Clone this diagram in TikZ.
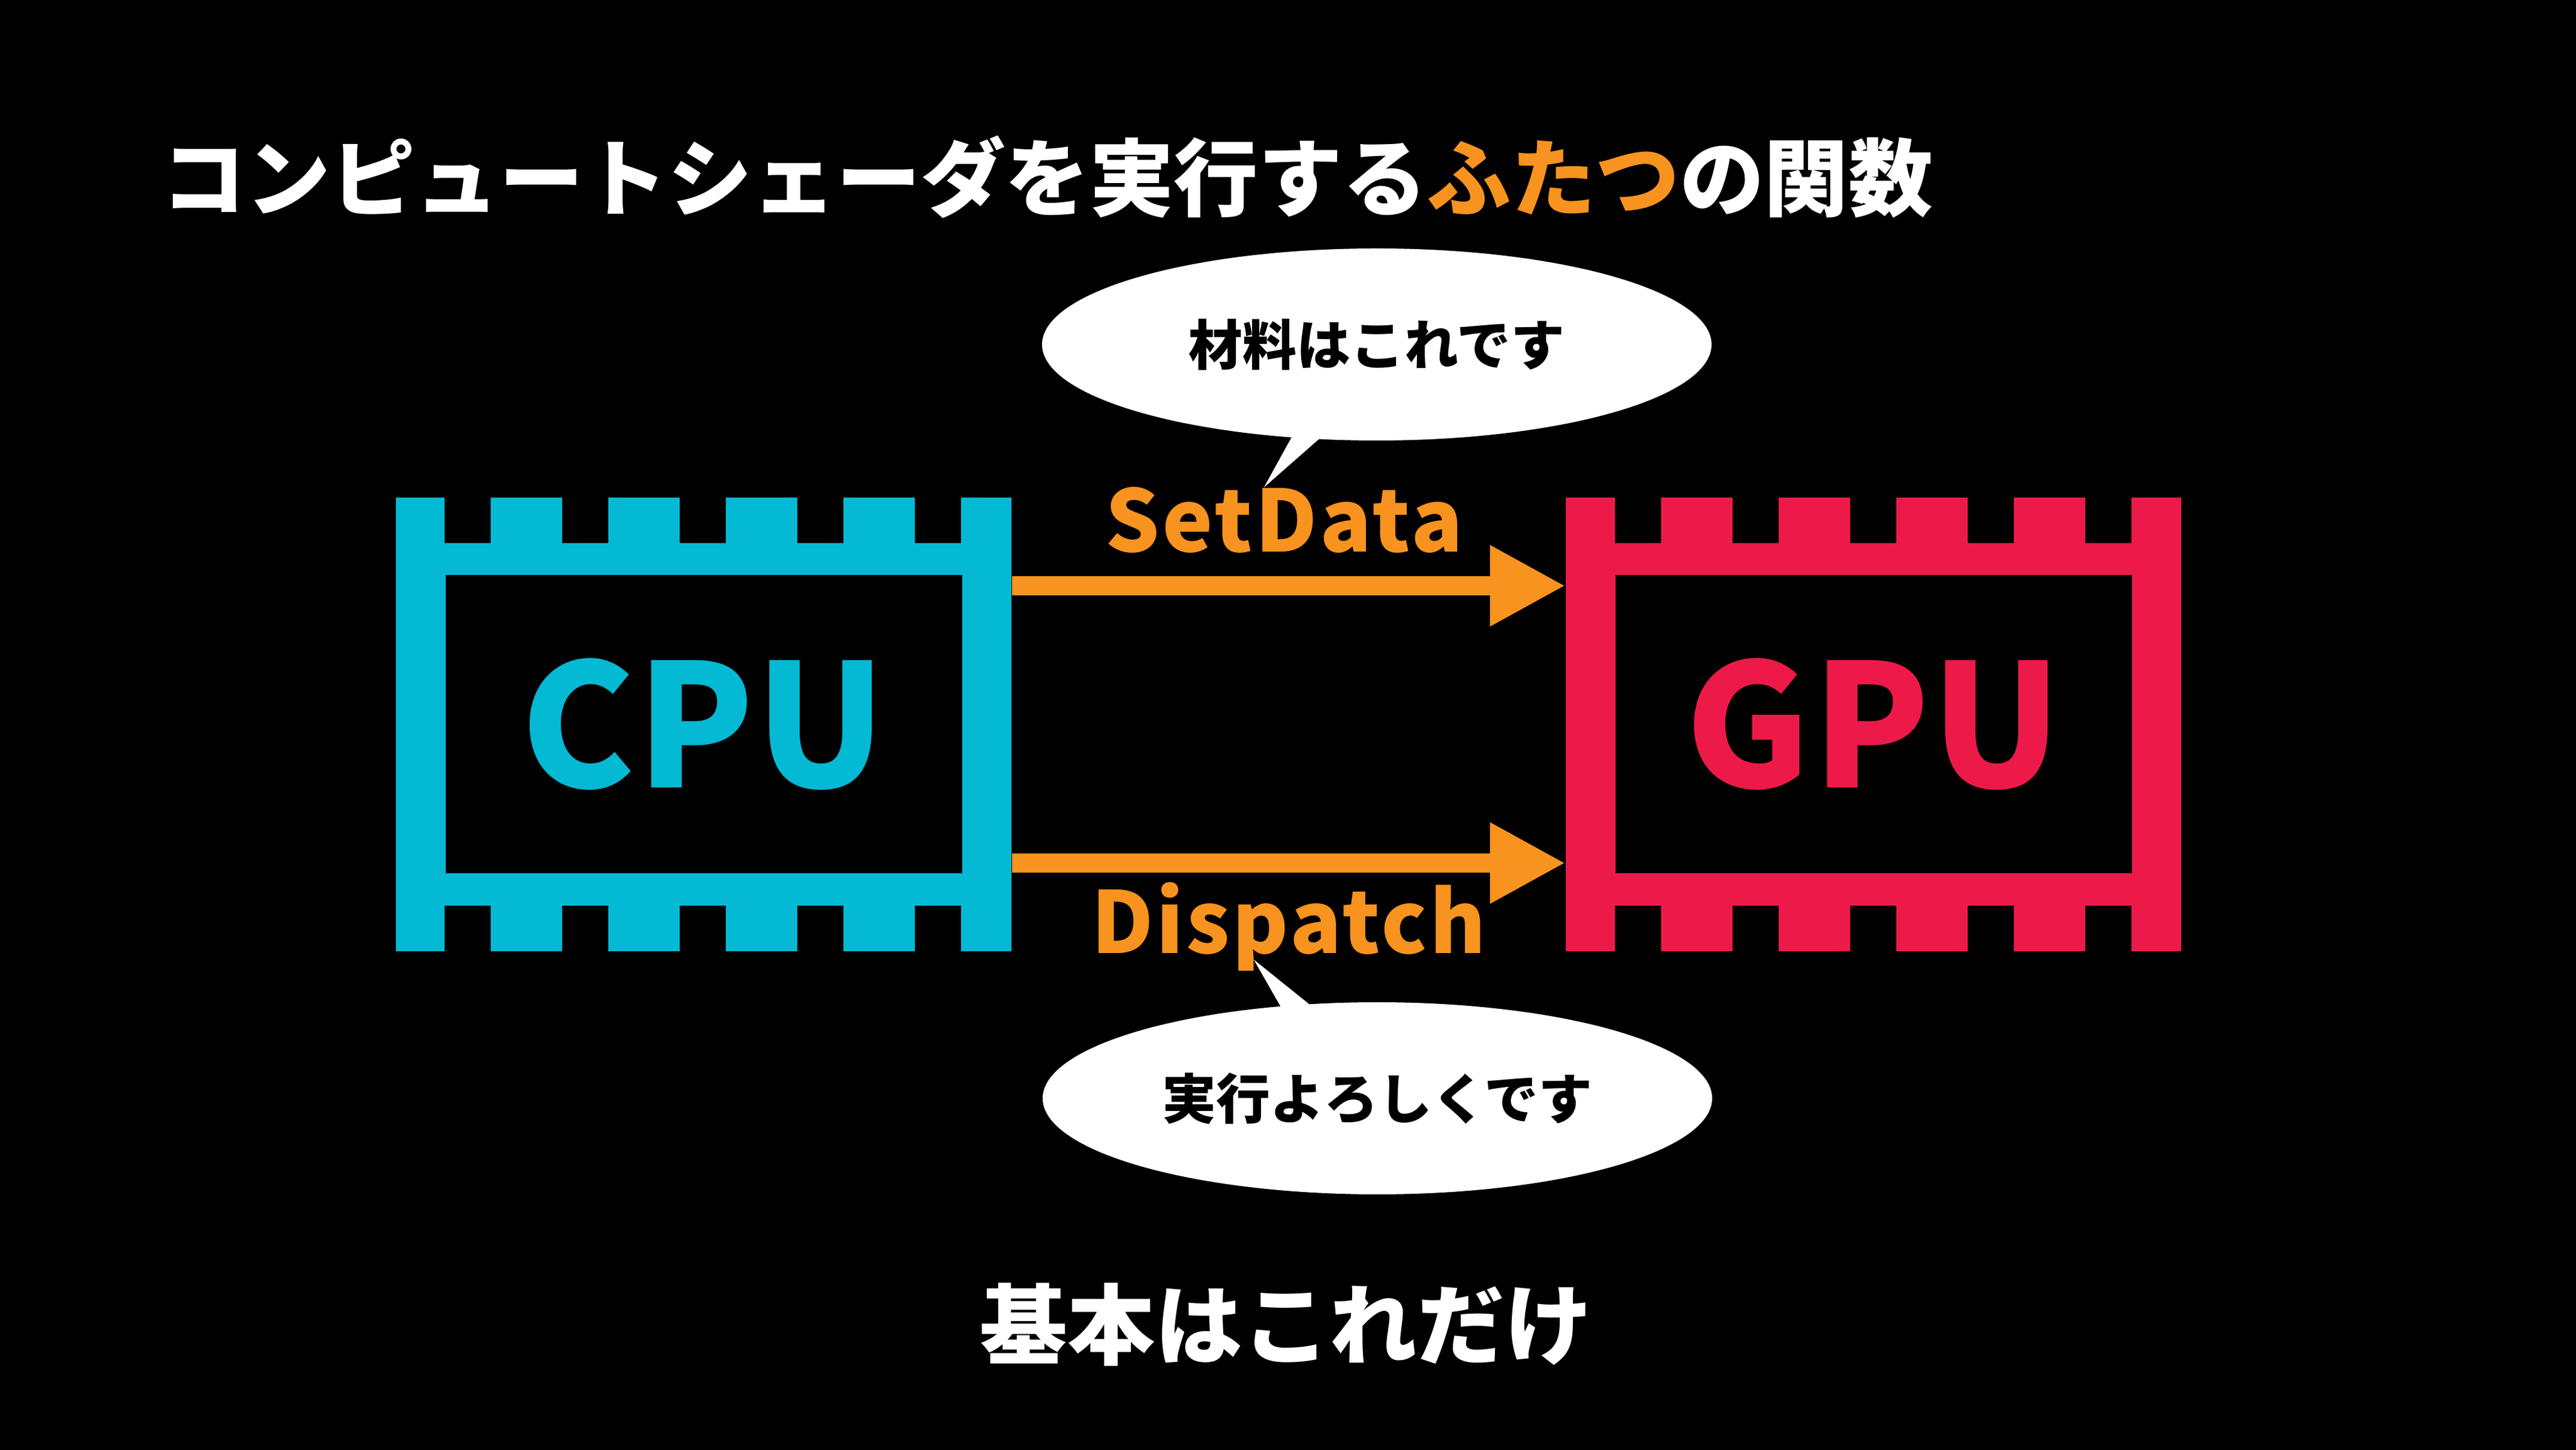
\documentclass[tikz,border=0pt]{standalone}
\usepackage{fontspec}
\setmainfont{Noto Sans CJK JP}
\usetikzlibrary{shapes.geometric, arrows.meta, positioning}
\definecolor{cpucyan}{RGB}{4,185,212}
\definecolor{gpured}{RGB}{237,26,73}
\definecolor{callorange}{RGB}{247,147,30}
\tikzset{
    chip/.style={rectangle, minimum width=10.26cm, minimum height=7.56cm, inner sep=0pt},
    core/.style={rectangle, fill=black, minimum width=8.61cm, minimum height=4.97cm, inner sep=0pt, font=\fontsize{81}{90}\selectfont\bfseries\addfontfeatures{LetterSpace=1}},
    flow/.style={line width=0.32cm, draw=callorange, -{Triangle[length=1.26cm, width=1.26cm]}},
    call/.style={text=callorange, inner sep=0pt, font=\fontsize{40.5}{48}\selectfont\bfseries\addfontfeatures{LetterSpace=3}},
    bubble/.style={ellipse, fill=white, minimum width=11.16cm, minimum height=3.2cm, inner sep=0pt, font=\fontsize{25.6}{30}\selectfont\bfseries},
    heading/.style={text=white, inner sep=0pt, font=\fontsize{40}{48}\selectfont\bfseries}
}
\newcommand{\chipnotches}[1]{%
    \foreach \k in {0,...,4} {
        \fill[black] ([xshift={0.82cm+\k*1.96cm}]#1.north west) rectangle ++(0.77,-0.77);
        \fill[black] ([xshift={0.82cm+\k*1.96cm}]#1.south west) rectangle ++(0.77,0.77);
    }%
}

\begin{document}
\begin{tikzpicture}
    \fill[black] (0,0) rectangle (42.94,24.16);
    \useasboundingbox (0,0) rectangle (42.94,24.16);
    % Title
    \node (title) [heading] at (17.46,21.21) {コンピュートシェーダを実行する\textcolor{callorange}{ふたつ}の関数};
    % Chips
    \node (cpu) [chip, fill=cpucyan] at (11.73,12.09) {};
    \node (gpu) [chip, fill=gpured, right=9.23cm of cpu] {};
    \chipnotches{cpu}
    \chipnotches{gpu}
    \node (cpucore) [core, text=cpucyan] at (cpu.center) {CPU\hspace{0.15cm}};
    \node (gpucore) [core, text=gpured] at (gpu.center) {GPU\hspace{0.15cm}};
    % Calls
    \draw [flow] ([yshift=2.31cm]cpu.east) -- node[call, above=0.38cm, xshift=-0.08cm] {SetData} ([yshift=2.31cm]gpu.west);
    \draw [flow] ([yshift=-2.31cm]cpu.east) -- node[call, below=0.16cm] {Dispatch} ([yshift=-2.31cm]gpu.west);
    % Bubbles
    \node (matbub) [bubble] at (22.95,18.42) {材料はこれです};
    \node (runbub) [bubble] at (22.96,5.86) {実行よろしくです};
    \coordinate (mattip) at ([shift={(-1.88,-2.38)}]matbub.center);
    \coordinate (runtip) at ([shift={(-2.06,2.31)}]runbub.center);
    \fill[white] (mattip) -- ([shift={(-1.34,-1.40)}]matbub.center) -- ([shift={(-0.82,-1.45)}]matbub.center) -- cycle;
    \fill[white] (runtip) -- ([shift={(-1.54,1.40)}]runbub.center) -- ([shift={(-0.99,1.45)}]runbub.center) -- cycle;
    % Summary
    \node (summary) [heading, font=\fontsize{41.5}{48}\selectfont\bfseries] at (21.44,2.09) {基本はこれだけ};
\end{tikzpicture}
\end{document}
